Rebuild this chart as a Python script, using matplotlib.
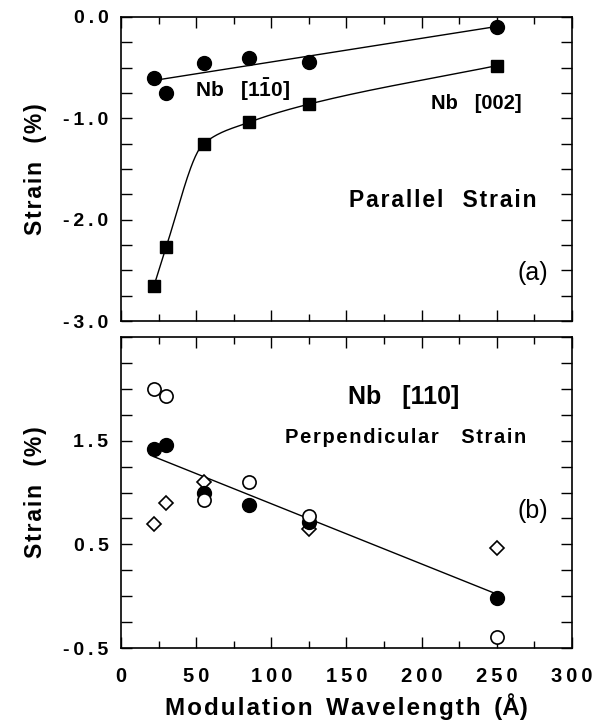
import numpy as np
import matplotlib.pyplot as plt
from matplotlib.ticker import MultipleLocator

plt.rcParams['font.family'] = ['Liberation Sans', 'DejaVu Sans']
plt.rcParams['mathtext.fontset'] = 'custom'
plt.rcParams['mathtext.bf'] = 'Liberation Sans:bold'
plt.rcParams['mathtext.rm'] = 'Liberation Sans:bold'

#-----------------------------
# values
wavelength = [22, 30, 55, 85, 125, 250]

# (a) parallel strain
par_110 = [-0.60, -0.75, -0.45, -0.40, -0.44, -0.10]
par_002 = [-2.65, -2.27, -1.25, -1.04, -0.86, -0.48]

# (b) perpendicular strain
perp_filled = [1.42, 1.46, 1.00, 0.88, 0.72, -0.02]
perp_open = [2.00, 1.93, 0.93, 1.10, 0.77, -0.39]
diamond_x = [22, 30, 55, 125, 250]
perp_diamond = [0.70, 0.90, 1.10, 0.65, 0.46]
perp_fit_x = [22, 250]
perp_fit_y = [1.345, 0.02]

xticks = [0, 50, 100, 150, 200, 250, 300]
top_labels = {0.0: '0.0', -1.0: '-1.0', -2.0: '-2.0', -3.0: '-3.0'}
bot_labels = {1.5: '1.5', 0.5: '0.5', -0.5: '-0.5'}


#------------------------------
def spaced(s, sp='\u2009'):
    return sp.join(s)


def pchip(x, y, xs):
    # monotone cubic through the points (Fritsch-Carlson)
    x = np.asarray(x, float)
    y = np.asarray(y, float)
    h = np.diff(x)
    d = np.diff(y) / h
    m = np.zeros_like(y)
    m[0], m[-1] = d[0], d[-1]
    for k in range(1, len(x) - 1):
        if d[k - 1] * d[k] > 0:
            w1 = 2 * h[k] + h[k - 1]
            w2 = h[k] + 2 * h[k - 1]
            m[k] = (w1 + w2) / (w1 / d[k - 1] + w2 / d[k])
    i = np.clip(np.searchsorted(x, xs) - 1, 0, len(x) - 2)
    t = (xs - x[i]) / h[i]
    h00 = 2 * t**3 - 3 * t**2 + 1
    h10 = t**3 - 2 * t**2 + t
    h01 = -2 * t**3 + 3 * t**2
    h11 = t**3 - t**2
    return h00 * y[i] + h10 * h[i] * m[i] + h01 * y[i + 1] + h11 * h[i] * m[i + 1]


def style_axes(ax, ymin, ymax, labels, show_x):
    ax.set_xlim(0, 300)
    ax.set_ylim(ymin, ymax)
    ax.xaxis.set_major_locator(MultipleLocator(50))
    ax.xaxis.set_minor_locator(MultipleLocator(25))
    yt = np.arange(ymin, ymax + 0.001, 0.25)
    ax.set_yticks(yt)
    ax.set_yticklabels([spaced(labels.get(round(v, 2), '')) for v in yt])
    ax.tick_params(which='both', direction='in', top=True, right=True, width=1)
    ax.tick_params(axis='x', which='major', length=8)
    ax.tick_params(axis='x', which='minor', length=5)
    ax.tick_params(axis='y', length=8, pad=9, labelsize=14)
    for t in ax.get_yticklabels():
        t.set_fontweight('bold')
    if show_x:
        ax.set_xticks(xticks)
        ax.set_xticklabels([spaced(str(v)) for v in xticks], fontweight='bold', fontsize=14.5)
        ax.tick_params(axis='x', which='major', pad=14)
    else:
        ax.set_xticklabels([])
    for s in ax.spines.values():
        s.set_linewidth(1.2)
    ax.set_ylabel(spaced('Strain  (%)', '\u200a'), fontsize=16.5, fontweight='bold', labelpad=12)


fig = plt.figure(figsize=(6.04, 7.23), dpi=100)
ax1 = fig.add_axes([0.2003, 0.556, 0.7467, 0.4205])
ax2 = fig.add_axes([0.2003, 0.1037, 0.7467, 0.4302])

#------------------------------
# (a) parallel strain
style_axes(ax1, -3.0, 0.0, top_labels, False)
fit = np.polyfit(wavelength, par_110, 1)
ax1.plot([wavelength[0], wavelength[-1]], np.polyval(fit, [wavelength[0], wavelength[-1]]),
         color='black', lw=1)
xs = np.linspace(wavelength[0], wavelength[-1], 300)
ax1.plot(xs, pchip(wavelength, par_002, xs), color='black', lw=1)
ax1.plot(wavelength, par_110, 'o', color='black', ms=10)
ax1.plot(wavelength, par_002, 's', color='black', ms=9)

ax1.text(49, -0.72, 'Nb   [1$\\mathbf{\\bar{1}}$0]', fontsize=15, fontweight='bold', va='center')
ax1.text(206, -0.85, 'Nb   [002]', fontsize=14.5, fontweight='bold', va='center')
ax1.text(152, -1.81, spaced('Parallel', '\u200a') + '   ' + spaced('Strain', '\u200a'),
         fontsize=16.5, fontweight='bold', va='center')
ax1.text(264, -2.53, '(a)', fontsize=18, va='center')

#------------------------------
# (b) perpendicular strain
style_axes(ax2, -0.5, 2.5, bot_labels, True)
ax2.plot(perp_fit_x, perp_fit_y, color='black', lw=1)
ax2.plot(diamond_x, perp_diamond, 'D', mfc='white', mec='black', mew=1.2, ms=7.5)
ax2.plot(wavelength, perp_filled, 'o', color='black', ms=10)
ax2.plot(wavelength, perp_open, 'o', mfc='white', mec='black', mew=1.2, ms=9.5)

ax2.text(151, 1.92, 'Nb   [110]', fontsize=18, fontweight='bold', va='center')
ax2.text(109, 1.53, spaced('Perpendicular', '\u200a') + '    ' + spaced('Strain', '\u200a'),
         fontsize=14.5, fontweight='bold', va='center')
ax2.text(264, 0.82, '(b)', fontsize=18, va='center')
ax2.set_xlabel(spaced('Modulation', '\u200a') + '  ' + spaced('Wavelength', '\u200a') + '  (Å)',
               fontsize=17.5, fontweight='bold', labelpad=5)

fig.savefig('out.png', dpi=100)
